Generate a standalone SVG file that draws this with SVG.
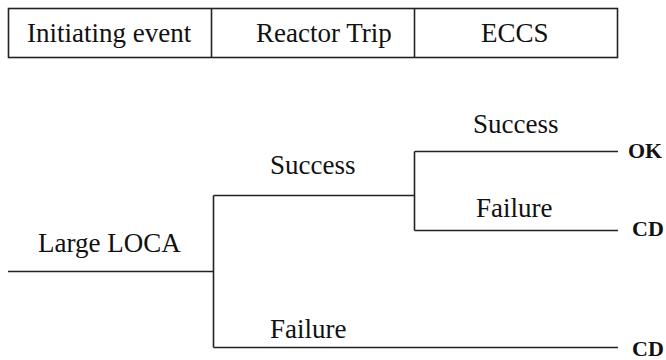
<svg xmlns="http://www.w3.org/2000/svg" width="666" height="360" viewBox="0 0 666 360">
<style>
.t{font-family:'Liberation Serif','Tinos','Times New Roman','Nimbus Roman','DejaVu Serif',serif;font-size:27px;fill:#111}
.e{font-family:'Liberation Serif','Tinos','Times New Roman','Nimbus Roman','DejaVu Serif',serif;font-size:22px;font-weight:bold;fill:#111}
.ln{fill:none;stroke:#222;stroke-width:1.6}
</style>
<rect width="666" height="360" fill="#fff"/>
<g id="header">
<rect class="ln" x="8.5" y="8.5" width="609" height="49"/>
<line class="ln" x1="211.5" y1="8.5" x2="211.5" y2="57.5"/>
<line class="ln" x1="414.5" y1="8.5" x2="414.5" y2="57.5"/>
<text class="t" x="27" y="41.5">Initiating event</text>
<text class="t" x="256" y="42">Reactor Trip</text>
<text class="t" x="481" y="42">ECCS</text>
</g>
<g id="connectors">
<path class="ln" d="M8 271.5H213.5M213.5 195.5V347.5M213.5 195.5H414.5M414.5 151.5V230.5M414.5 151.5H618M414.5 230.5H618M213.5 347.5H618"/>
</g>
<g id="node-ie"><text class="t" x="38" y="252">Large LOCA</text></g>
<g id="node-rt-success"><text class="t" x="270" y="174">Success</text></g>
<g id="node-rt-failure"><text class="t" x="270" y="338">Failure</text></g>
<g id="node-eccs-success"><text class="t" x="473" y="133">Success</text></g>
<g id="node-eccs-failure"><text class="t" x="476" y="217">Failure</text></g>
<g id="end-ok"><text class="e" x="628" y="158">OK</text></g>
<g id="end-cd1"><text class="e" x="632" y="236">CD</text></g>
<g id="end-cd2"><text class="e" x="632" y="356">CD</text></g>
</svg>
